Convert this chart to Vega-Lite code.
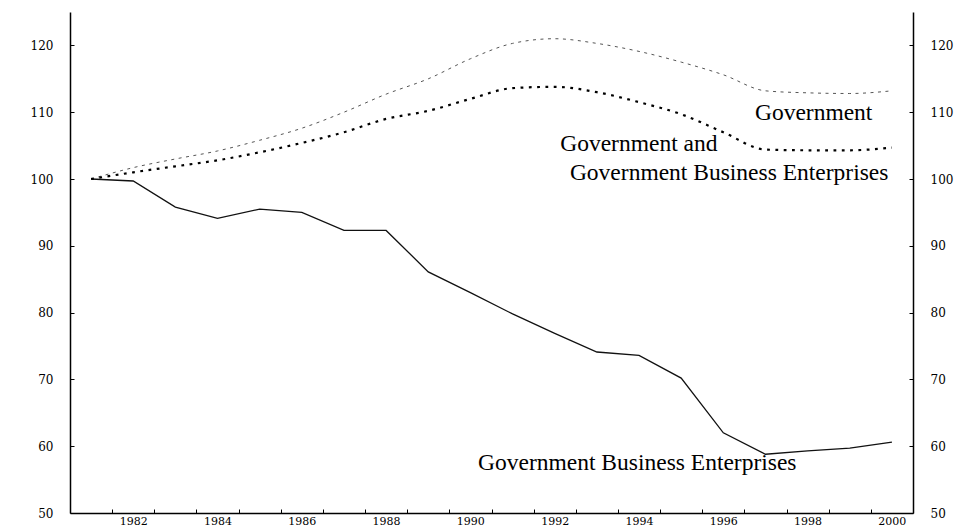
{
  "$schema": "https://vega.github.io/schema/vega-lite/v6.json",
  "width": 843,
  "height": 501,
  "autosize": {"type": "none"},
  "padding": {"left": 70, "top": 12, "right": 63, "bottom": 14},
  "background": "white",
  "config": {
    "view": {"stroke": null}
  },
  "data": {
    "values": [
      {"year": 1981, "gov": 100.0, "ggbe": 100.0, "gbe": 100.0},
      {"year": 1982, "gov": 101.7, "ggbe": 101.0, "gbe": 99.7},
      {"year": 1983, "gov": 103.0, "ggbe": 101.9, "gbe": 95.8},
      {"year": 1984, "gov": 104.2, "ggbe": 102.8, "gbe": 94.1},
      {"year": 1985, "gov": 105.8, "ggbe": 104.0, "gbe": 95.5},
      {"year": 1986, "gov": 107.6, "ggbe": 105.4, "gbe": 95.0},
      {"year": 1987, "gov": 110.0, "ggbe": 107.0, "gbe": 92.3},
      {"year": 1988, "gov": 112.7, "ggbe": 109.0, "gbe": 92.3},
      {"year": 1989, "gov": 115.0, "ggbe": 110.2, "gbe": 86.1},
      {"year": 1990, "gov": 118.0, "ggbe": 112.0, "gbe": 83.0},
      {"year": 1991, "gov": 120.3, "ggbe": 113.6, "gbe": 79.8},
      {"year": 1992, "gov": 121.0, "ggbe": 113.8, "gbe": 76.9},
      {"year": 1993, "gov": 120.3, "ggbe": 113.0, "gbe": 74.1},
      {"year": 1994, "gov": 119.1, "ggbe": 111.5, "gbe": 73.6},
      {"year": 1995, "gov": 117.5, "ggbe": 109.7, "gbe": 70.2},
      {"year": 1996, "gov": 115.6, "ggbe": 107.0, "gbe": 62.0},
      {"year": 1997, "gov": 113.2, "ggbe": 104.4, "gbe": 58.8},
      {"year": 1998, "gov": 112.9, "ggbe": 104.3, "gbe": 59.3},
      {"year": 1999, "gov": 112.8, "ggbe": 104.3, "gbe": 59.7},
      {"year": 2000, "gov": 113.2, "ggbe": 104.7, "gbe": 60.6}
    ]
  },
  "encoding": {
    "x": {
      "field": "year", "type": "quantitative",
      "scale": {"domain": [1980.5, 2000.5], "nice": false, "zero": false},
      "axis": {
        "orient": "bottom",
        "title": null,
        "grid": false,
        "values": [1981.5, 1982.5, 1983.5, 1984.5, 1985.5, 1986.5, 1987.5, 1988.5, 1989.5, 1990.5, 1991.5, 1992.5, 1993.5, 1994.5, 1995.5, 1996.5, 1997.5, 1998.5, 1999.5],
        "labelExpr": "(datum.value + 0.5) % 2 == 0 ? '' + (datum.value + 0.5) : ''",
        "labelOffset": 21,
        "labelPadding": 6.5,
        "labelFont": "DejaVu Serif",
        "labelFontSize": 11,
        "labelColor": "black",
        "labelOverlap": false,
        "labelFlush": false,
        "labelBound": false,
        "domainColor": "black",
        "domainWidth": 1.5,
        "tickColor": "black",
        "tickWidth": 1,
        "tickSize": -4
      }
    }
  },
  "layer": [
    {
      "mark": {"type": "line", "color": "#111111", "strokeWidth": 1.3},
      "encoding": {
        "y": {
          "field": "gbe", "type": "quantitative",
          "scale": {"domain": [50, 125], "nice": false, "zero": false},
          "axis": {
            "orient": "left", "title": null, "grid": false,
            "values": [50, 60, 70, 80, 90, 100, 110, 120],
            "labelPadding": 21, "labelFont": "DejaVu Serif", "labelFontSize": 12, "labelColor": "black",
            "domainColor": "black", "domainWidth": 1.5, "tickColor": "black", "tickWidth": 1, "tickSize": -4
          }
        }
      }
    },
    {
      "mark": {"type": "line", "color": "#555555", "strokeWidth": 1, "strokeDash": [3, 4.5], "interpolate": "monotone"},
      "encoding": {
        "y": {
          "field": "gov", "type": "quantitative",
          "scale": {"domain": [50, 125], "nice": false, "zero": false},
          "axis": {
            "orient": "right", "title": null, "grid": false,
            "values": [50, 60, 70, 80, 90, 100, 110, 120],
            "labelPadding": 21, "labelFont": "DejaVu Serif", "labelFontSize": 12, "labelColor": "black",
            "domainColor": "black", "domainWidth": 1.5, "tickColor": "black", "tickWidth": 1, "tickSize": -4
          }
        }
      }
    },
    {
      "mark": {"type": "line", "color": "black", "strokeWidth": 2.2, "strokeDash": [2.8, 5.5], "interpolate": "monotone"},
      "encoding": {
        "y": {"field": "ggbe", "type": "quantitative", "scale": {"domain": [50, 125], "nice": false, "zero": false}, "axis": null}
      }
    },
    {
      "data": {
        "values": [
          {"label": "Government", "tx": 1996.75, "ty": 108.8},
          {"label": "Government and", "tx": 1992.13, "ty": 104.2},
          {"label": "Government Business Enterprises", "tx": 1992.36, "ty": 99.85},
          {"label": "Government Business Enterprises", "tx": 1990.18, "ty": 56.4}
        ]
      },
      "mark": {"type": "text", "align": "left", "baseline": "alphabetic", "font": "Liberation Serif", "fontSize": 23.5, "color": "black"},
      "encoding": {
        "x": {"field": "tx", "type": "quantitative"},
        "y": {"field": "ty", "type": "quantitative", "axis": null},
        "text": {"field": "label"}
      }
    }
  ],
  "resolve": {"axis": {"y": "independent"}}
}
